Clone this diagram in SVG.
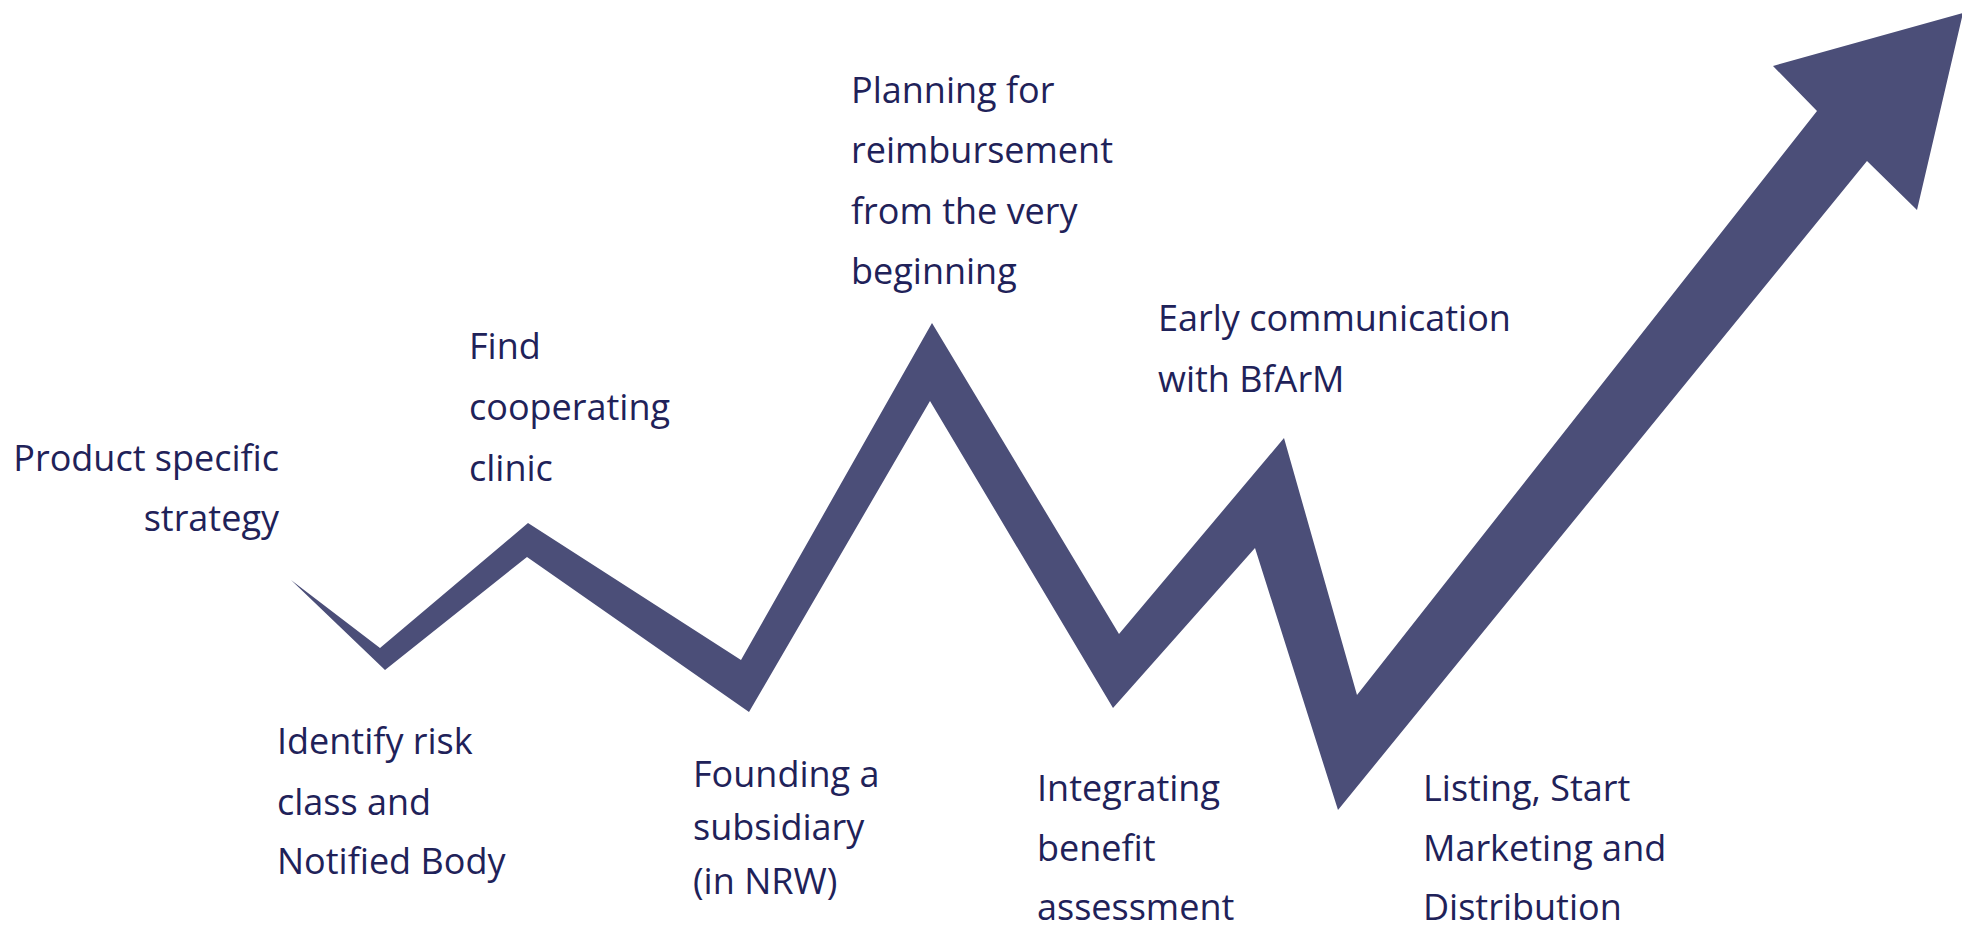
<svg xmlns="http://www.w3.org/2000/svg" width="1962" height="930" viewBox="0 0 1962 930">
  <style>
    .lbl { font-family: "Open Sans", "Noto Sans", "Liberation Sans", sans-serif; font-size: 36px; fill: #1F2259; }
    .end { text-anchor: end; }
    .band { fill: #4B4E78; stroke: none; }
  </style>
  <rect x="0" y="0" width="1962" height="930" fill="#FFFFFF"/>
  <g id="connectors">
    <polygon class="band" points="291,580 380,648 528,523 741,660 932,323 1119,634 1284,438 1357,695 1817,111 1773,66 1963,13 1917,210 1867,161 1338,810 1255,548 1113,708 930,401 749,712 527,557 385,670"/>
  </g>
  <g id="node-product-strategy">
    <text class="lbl end" x="279" y="471">Product specific</text>
    <text class="lbl end" x="279" y="531">strategy</text>
  </g>
  <g id="node-find-clinic">
    <text class="lbl" x="469" y="359">Find</text>
    <text class="lbl" x="469" y="420">cooperating</text>
    <text class="lbl" x="469" y="481">clinic</text>
  </g>
  <g id="node-planning-reimbursement">
    <text class="lbl" x="851" y="103">Planning for</text>
    <text class="lbl" x="851" y="163">reimbursement</text>
    <text class="lbl" x="851" y="224">from the very</text>
    <text class="lbl" x="851" y="284">beginning</text>
  </g>
  <g id="node-early-communication">
    <text class="lbl" x="1158" y="331">Early communication</text>
    <text class="lbl" x="1158" y="392">with BfArM</text>
  </g>
  <g id="node-identify-risk">
    <text class="lbl" x="277" y="754">Identify risk</text>
    <text class="lbl" x="277" y="815">class and</text>
    <text class="lbl" x="277" y="874">Notified Body</text>
  </g>
  <g id="node-founding-subsidiary">
    <text class="lbl" x="693" y="787">Founding a</text>
    <text class="lbl" x="693" y="840">subsidiary</text>
    <text class="lbl" x="693" y="894">(in NRW)</text>
  </g>
  <g id="node-integrating-benefit">
    <text class="lbl" x="1037" y="801">Integrating</text>
    <text class="lbl" x="1037" y="861">benefit</text>
    <text class="lbl" x="1037" y="920">assessment</text>
  </g>
  <g id="node-listing-marketing">
    <text class="lbl" x="1423" y="801">Listing, Start</text>
    <text class="lbl" x="1423" y="861">Marketing and</text>
    <text class="lbl" x="1423" y="920">Distribution</text>
  </g>
</svg>
